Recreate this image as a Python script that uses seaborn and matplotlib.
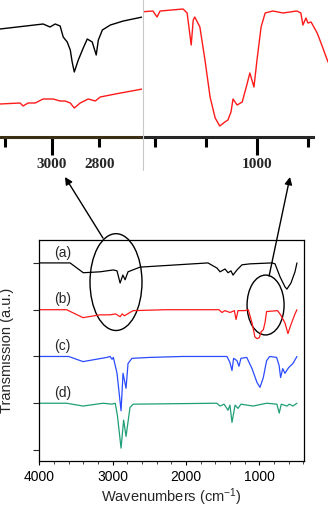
import matplotlib
matplotlib.use("Agg")
import matplotlib.pyplot as plt
import seaborn as sns
import pandas as pd
from matplotlib.patches import Ellipse
from matplotlib.lines import Line2D
from matplotlib.ticker import FixedLocator, FixedFormatter, MultipleLocator, NullFormatter

# ---- main spectra: wavenumber (cm-1) and change from each trace's baseline (a.u.)
a_wn = [4000, 3580, 3400, 3170, 2990, 2940, 2898, 2860, 2830, 2790, 2627, 1700, 1577, 1535,
        1467, 1426, 1386, 1358, 1304, 1235, 1127, 827, 785, 716, 650, 623, 568, 513, 486]
a_tr = [0, 0, -0.21, -0.19, -0.15, -0.17, -0.43, -0.26, -0.36, -0.19, -0.09, 0, -0.11, -0.19,
        -0.13, -0.21, -0.17, -0.26, -0.15, -0.04, -0.02, 0, -0.02, -0.30, -0.51, -0.56, -0.43, -0.19, 0]

b_wn = [4000, 3628, 3404, 3172, 3036, 2960, 2898, 2870, 2840, 2720, 2260, 1550, 1508, 1470,
        1398, 1340, 1317, 1290, 1194, 1150, 1099, 1060, 1031, 1000, 974, 945, 922, 900, 750,
        709, 650, 609, 568, 513, 486]
b_tr = [0, 0, -0.17, -0.11, -0.11, -0.09, -0.15, -0.09, -0.13, -0.02, 0, 0, -0.06, -0.02,
        -0.06, -0.02, -0.21, -0.02, -0.02, 0, -0.28, -0.58, -0.62, -0.60, -0.47, -0.43, -0.28,
        -0.04, -0.02, -0.11, -0.28, -0.51, -0.32, -0.09, 0]

c_wn = [4000, 3600, 3404, 3078, 3035, 3008, 2990, 2940, 2885, 2858, 2817, 2790, 2736, 2490,
        2040, 1440, 1400, 1372, 1350, 1304, 1277, 1250, 1171, 1099, 1030, 990, 945, 900, 859,
        764, 730, 709, 680, 650, 600, 541, 486]
c_tr = [0, 0, -0.11, -0.02, 0, -0.06, -0.02, -0.36, -1.16, -0.36, -0.68, -0.15, -0.04, -0.02,
        0, 0, -0.13, -0.30, -0.04, -0.09, -0.21, -0.04, -0.02, -0.26, -0.56, -0.66, -0.45,
        -0.09, 0, -0.02, -0.19, -0.45, -0.26, -0.36, -0.24, -0.15, 0]

d_wn = [4000, 3628, 3404, 3130, 3008, 2964, 2935, 2885, 2850, 2817, 2763, 2720, 1580, 1535,
        1480, 1426, 1400, 1372, 1330, 1290, 1250, 1085, 900, 760, 728, 700, 623, 590, 541, 486]
d_tr = [0, 0, -0.06, 0, -0.02, 0, -0.26, -0.96, -0.36, -0.71, -0.09, -0.02, 0, -0.06,
        -0.02, -0.15, -0.04, -0.41, -0.04, -0.11, -0.02, -0.06, 0, -0.02, -0.21, -0.02, -0.06,
        -0.02, -0.06, 0]

samples = ["(a)", "(b)", "(c)", "(d)"]
offsets = [4, 3, 2, 1]
colors = ["#000000", "#ff1a1a", "#2a4bff", "#1f9e78"]

# ---- left inset (C-H stretch region), samples a and b
left_wn = [3221, 3038, 3009, 2987, 2966, 2953, 2936, 2923, 2915, 2906, 2889, 2868, 2851,
           2830, 2813, 2804, 2787, 2753, 2698, 2617]
left_a = [108, 113, 110, 113, 111, 100, 95, 87, 75, 65, 77, 89, 98, 95, 82, 97, 107, 112, 116, 120]
left_b_wn = [3221, 3136, 3123, 3102, 3072, 3038, 2996, 2966, 2945, 2923, 2906, 2881, 2847,
             2817, 2796, 2732, 2617]
left_b = [33, 34, 31, 34, 34, 38, 38, 36, 36, 34, 29, 34, 38, 36, 40, 43, 48]

# ---- right inset (Si-O region), sample b
right_wn = [1229, 1204, 1196, 1190, 1145, 1137, 1129, 1125, 1122, 1112, 1102, 1092, 1082, 1073,
            1063, 1057, 1051, 1047, 1039, 1029, 1020, 1014, 1006, 1000, 992, 984, 969, 949, 922,
            914, 910, 904, 900, 894, 882, 873, 863, 858]
right_b = [125, 126, 120, 126, 128, 124, 92, 117, 120, 110, 77, 40, 19, 11,
           15, 17, 25, 38, 32, 35, 52, 64, 50, 77, 110, 124, 126, 124, 126,
           124, 112, 119, 114, 115, 104, 92, 78, 72]

sns.set_style("white")
plt.rcParams["font.family"] = ["Liberation Sans", "DejaVu Sans"]
plt.rcParams["mathtext.default"] = "regular"

W, H = 328, 512
fig = plt.figure(figsize=(W / 100, H / 100), dpi=100)

# main axes
ax = fig.add_axes([39.3 / W, 1 - 461 / H, (304 - 39.3) / W, (461 - 240) / H])
frames = []
for name, wn, tr, off in zip(samples, [a_wn, b_wn, c_wn, d_wn], [a_tr, b_tr, c_tr, d_tr], offsets):
    frames.append(pd.DataFrame({"wn": wn, "trans": [t + off for t in tr], "sample": name}))
df = pd.concat(frames, ignore_index=True)
sns.lineplot(data=df, x="wn", y="trans", hue="sample", palette=colors, estimator=None,
             sort=False, lw=0.9, legend=False, ax=ax)

ax.set_xlim(4000, 390)
ax.set_ylim(-0.235, 4.49)
ax.xaxis.set_major_locator(FixedLocator([4000, 3000, 2000, 1000]))
ax.xaxis.set_minor_locator(MultipleLocator(200))
ax.set_yticks(offsets + [0])
ax.set_yticklabels([])
ax.tick_params(axis="x", which="major", direction="out", length=3, width=0.8, pad=3.5,
               labelsize=10, colors="k", bottom=True)
ax.tick_params(axis="x", which="minor", direction="out", length=2, width=0.6, bottom=True)
ax.tick_params(axis="y", direction="out", length=4, width=0.8, left=True)
for sp in ax.spines.values():
    sp.set_color("k")
    sp.set_linewidth(0.9)
ax.set_xlabel("Wavenumbers (cm$^{-1}$)", fontsize=10.5, labelpad=2)
ax.set_ylabel("Transmission (a.u.)", fontsize=10.5, labelpad=11)

for name, off in zip(samples, offsets):
    ax.text(3680, off + 0.22, name, fontsize=10, ha="center", va="center")

ax.add_patch(Ellipse((2954, 3.59), 709, 2.07, fill=False, lw=1.0, ec="k", clip_on=False))
ax.add_patch(Ellipse((914, 3.10), 505, 1.28, fill=False, lw=1.0, ec="k", clip_on=False))

ax.annotate("", xy=(65 / W, 1 - 177 / H), xycoords="figure fraction",
            xytext=(3131, 4.53), textcoords="data",
            arrowprops=dict(arrowstyle="-|>", lw=1.0, color="k", mutation_scale=11, shrinkA=0, shrinkB=0))
ax.annotate("", xy=(290 / W, 1 - 177 / H), xycoords="figure fraction",
            xytext=(866, 3.72), textcoords="data",
            arrowprops=dict(arrowstyle="-|>", lw=1.0, color="k", mutation_scale=11, shrinkA=0, shrinkB=0))

serif_bold = dict(family=["Liberation Serif", "DejaVu Serif"], weight="bold", size=11)

# left inset
axl = fig.add_axes([0, 1 - 137 / H, 141.5 / W, 137 / H])
sns.lineplot(x=left_wn, y=left_a, color="k", lw=1.0, estimator=None, sort=False, ax=axl)
sns.lineplot(x=left_b_wn, y=left_b, color="#ff1a1a", lw=1.0, estimator=None, sort=False, ax=axl)
axl.set_xlim(3221, 2621)
axl.set_ylim(0, 137)
axl.patch.set_alpha(0)
for s in ["top", "left", "right"]:
    axl.spines[s].set_visible(False)
axl.spines["bottom"].set_linewidth(2.2)
axl.spines["bottom"].set_color("#3a2e14")
axl.set_yticks([])
axl.xaxis.set_major_locator(FixedLocator([3000]))
axl.xaxis.set_minor_locator(FixedLocator([3200, 2800]))
axl.xaxis.set_minor_formatter(FixedFormatter(["", "2800"]))
axl.tick_params(axis="x", which="major", direction="out", length=13, width=2.2, pad=2.0,
                color="k", bottom=True)
axl.tick_params(axis="x", which="minor", direction="out", length=7, width=2.2, pad=8.0,
                color="k", bottom=True)
for lab in axl.get_xticklabels(which="both"):
    lab.set_fontproperties(serif_bold)
axl.set_xlabel("")
axl.set_ylabel("")

# right inset
axr = fig.add_axes([143 / W, 1 - 137 / H, (W - 143) / W, 137 / H])
sns.lineplot(x=right_wn, y=right_b, color="#ff1a1a", lw=1.0, estimator=None, sort=False, ax=axr)
axr.set_xlim(1223.5, 860.8)
axr.set_ylim(0, 137)
axr.patch.set_alpha(0)
for s in ["top", "left", "right"]:
    axr.spines[s].set_visible(False)
axr.spines["bottom"].set_linewidth(2.2)
axr.spines["bottom"].set_bounds(1223.5, 890)
axr.set_yticks([])
axr.xaxis.set_major_locator(FixedLocator([1000]))
axr.xaxis.set_minor_locator(FixedLocator([1200, 1100, 900]))
axr.xaxis.set_minor_formatter(NullFormatter())
axr.tick_params(axis="x", which="major", direction="out", length=13, width=2.2, pad=2.0,
                color="k", bottom=True)
axr.tick_params(axis="x", which="minor", direction="out", length=7, width=2.2, color="k",
                bottom=True)
for lab in axr.get_xticklabels(which="both"):
    lab.set_fontproperties(serif_bold)
axr.set_xlabel("")
axr.set_ylabel("")

# thin divider between the two insets
fig.add_artist(Line2D([143 / W, 143 / W], [1, 1 - 170 / H], color="#c8c8c8", lw=0.8))

fig.savefig("out.png", dpi=100)
